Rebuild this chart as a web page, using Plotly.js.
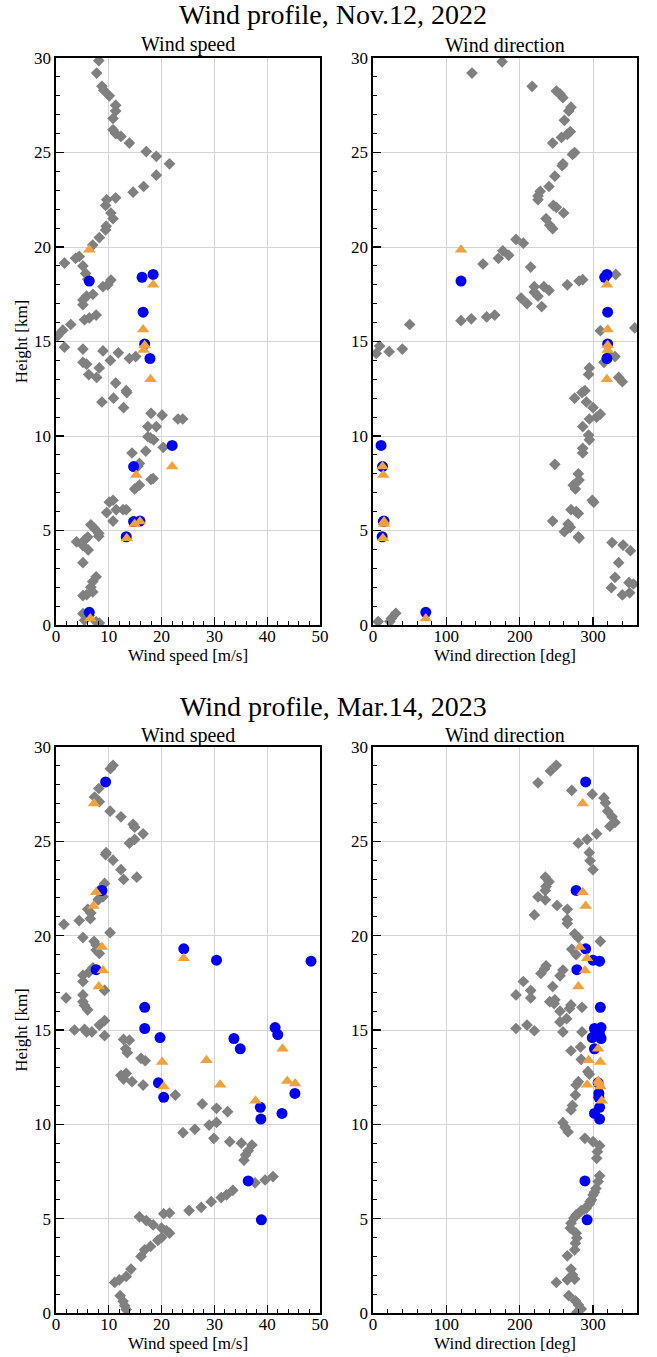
<!DOCTYPE html>
<html><head><meta charset="utf-8">
<script src="https://cdn.plot.ly/plotly-3.0.1.min.js"></script>
<style>html,body{margin:0;padding:0;background:#fff}#chart{width:657px;height:1357px}</style>
</head><body><div id="chart"></div>
<script>
// ---------- Nov.12, 2022 ----------
const novSondeSpeed = [8.1,7.7,8.7,9.05,10.1,11.3,11.3,10.8,10.8,11.3,12.3,13.9,17.1,19.0,21.5,19.0,16.6,14.6,11.3,9.6,9.4,10.4,10.8,9.5,9.4,8.2,6.96,4.4,3.7,1.6,5.1,5.6,6.0,10.4,9.8,8.9,7.0,5.8,5.1,5.1,7.6,6.3,5.4,2.8,1.3,0.3,1.6,5.1,8.9,11.8,15.1,13.9,10.3,5.1,5.8,8.2,6.2,7.7,11.3,13.3,13.4,10.9,8.7,12.8,18.0,20.1,23.1,24.0,17.4,19.0,17.4,17.9,18.5,20.3,17.0,14.4,15.8,15.5,18.4,18.0,15.8,14.9,10.8,10.1,11.4,12.7,13.3,9.6,10.8,6.6,7.3,8.1,8.1,6.0,5.4,3.9,5.1,6.1,5.1,7.6,6.96,6.6,6.96,5.8,5.1,5.1,6.3,5.4,7.6,8.2];
const novSondeSpeedH = [29.86,29.2,28.5,28.3,28.0,27.5,27.2,26.8,26.2,26.0,25.85,25.5,25.05,24.8,24.4,23.8,23.2,22.9,22.6,22.5,22.2,21.8,21.5,21.1,20.9,20.5,20.1,19.5,19.4,19.15,19.0,18.6,18.3,18.25,18.0,17.9,17.5,17.4,17.2,16.95,16.4,16.25,16.15,15.9,15.6,15.3,14.7,14.6,14.5,14.4,14.2,14.1,14.0,13.9,13.8,13.6,13.25,13.1,12.8,12.4,12.3,12.0,11.8,11.5,11.2,11.1,10.9,10.9,10.5,10.5,9.96,9.9,9.8,9.4,9.2,9.1,8.55,8.4,7.75,7.7,7.4,7.2,6.6,6.5,6.1,6.1,6.1,5.95,5.5,5.3,5.1,4.85,4.7,4.65,4.5,4.4,4.2,3.97,3.3,2.55,2.3,2.0,1.75,1.6,1.55,0.6,0.5,0.25,0.17,0.1];
const novSondeDir = [176,135,217,250,255,259,270,267,261,269,265,257,245,275,272,259,258,248,240,228,225,225,246,250,260,236,241,245,195,205,177,185,171,150,215,331,286,281,265,220,233,240,220,225,202,210,230,166,155,134,120,50,357,310,9,40,22,4.5,322,330,315,295,294,335,340,289,285,275,291,300,310,305,295,286,294,295,286,286,248,280,281,273,276,299,301,270,277,280,245,266,269,261,280,281,326,341,351,335,330,349,355,325,350,340,31,25,23,7];
const novSondeDirH = [29.8,29.2,28.5,28.25,28.1,27.9,27.4,27.2,26.7,26.1,25.96,25.8,25.5,25.0,24.9,24.4,24.3,23.75,23.2,22.95,22.7,22.5,22.2,22.1,21.8,21.5,21.15,20.97,20.4,20.2,19.8,19.56,19.4,19.1,18.94,18.55,18.27,18.2,18.0,17.9,17.9,17.7,17.6,17.4,17.3,17.0,16.85,16.4,16.3,16.2,16.1,15.9,15.72,15.57,14.76,14.6,14.46,14.37,14.3,14.2,13.9,13.6,13.26,13.1,12.87,12.4,12.3,12.0,11.8,11.5,11.16,11.0,10.9,10.5,10.05,9.8,9.35,9.1,8.5,8.0,7.67,7.4,7.2,6.6,6.5,6.1,6.0,5.9,5.5,5.34,5.17,4.94,4.67,4.6,4.36,4.23,3.93,3.3,2.52,2.24,2.17,1.97,1.7,1.59,0.62,0.35,0.18,0.18];
const novCircleH = [18.2,18.4,18.55,16.55,14.87,14.1,9.5,8.38,5.47,5.5,4.67,0.67];
const novCircleSpeed = [6.3,16.3,18.4,16.5,16.8,17.8,22.0,14.7,14.7,15.9,13.3,6.3];
const novCircleDir = [120,316,319,320,320,319,11,13,14,15,12.5,72];
const novTriH = [19.86,18.0,15.64,14.8,14.55,13.0,8.38,7.94,5.35,5.47,4.59,0.35];
const novTriSpeed = [6.3,18.4,16.5,16.8,16.6,17.9,22.0,15.2,14.9,15.9,13.4,6.5];
const novTriDir = [120,319,320,320,320,319,13,14,15,15,13.5,72];

// ---------- Mar.14, 2023 ----------
const marSondeSpeed = [10.8,10.3,8.1,7.3,8.2,10.25,12.3,14.6,14.9,16.5,14.9,13.9,9.5,9.4,10.8,12.3,12.8,15.3,9.2,8.5,8.9,8.2,8.0,6.0,6.6,6.5,4.4,1.5,10.25,5.1,7.2,7.6,7.6,8.2,7.0,6.2,5.1,5.1,9.2,5.1,1.9,5.1,5.4,6.0,9.2,8.2,5.4,3.5,5.8,6.8,9.2,12.8,13.9,13.2,13.5,16.1,16.9,13.3,12.3,12.8,14.4,16.5,22.6,27.7,30.4,32.5,30.4,29.0,26.3,24.05,29.9,32.9,35.1,37.1,36.4,35.9,35.6,41.1,39.6,37.7,33.5,32.3,31.3,29.4,27.5,25.2,21.5,20.4,15.8,17.1,18.4,20.0,20.9,21.5,20.0,19.3,17.9,16.8,16.1,14.2,13.3,12.0,11.1,12.15,12.7,13.0,13.3];
const marSondeSpeedH = [29.03,28.85,27.8,27.35,27.1,26.6,26.3,25.9,25.75,25.4,25.1,24.9,24.4,24.3,24.0,23.5,22.98,23.1,22.77,22.5,22.06,21.97,21.9,21.4,21.2,20.9,20.8,20.6,20.16,19.9,19.7,19.5,19.24,19.06,18.3,18.05,17.9,17.57,17.1,16.86,16.7,16.5,16.3,16.07,15.5,15.26,15.03,15.0,14.9,14.9,14.7,14.5,14.46,14.0,13.8,13.5,13.37,12.7,12.6,12.4,12.26,12.08,11.55,11.08,10.85,10.67,10.1,9.96,9.74,9.56,9.26,9.08,9.0,8.9,8.6,8.38,8.1,7.23,7.05,6.9,6.5,6.26,6.12,5.9,5.6,5.43,5.3,5.26,5.1,4.9,4.67,4.5,4.37,4.23,4.0,3.85,3.53,3.35,3.0,2.33,1.94,1.76,1.62,0.92,0.62,0.39,0.18];
const marSondeDir = [250,242,225,271,299,315,317,320,326,330,323,305,292,280,295,296,300,235,240,236,235,225,235,251,265,220,265,265,275,280,310,271,277,236,234,259,229,255,205,245,215,195,215,248,241,247,270,285,268,255,264,255,210,195,220,259,285,283,270,284,293,295,280,277,276,272,270,259,262,266,289,300,309,306,305,309,307,304,302,300,298,296,295,291,288,284,281,277,274,270,269,277,278,276,275,265,270,272,275,265,250,267,276,280,284,278];
const marSondeDirH = [29.03,28.73,28.1,27.7,27.5,27.3,27.04,26.6,26.3,26.0,25.8,25.4,25.1,24.9,24.4,23.97,23.5,23.1,22.86,22.6,22.4,22.06,21.9,21.6,21.4,21.1,20.86,20.65,20.1,19.9,19.7,19.28,19.0,18.4,18.25,18.18,18.0,17.87,17.57,17.3,17.1,16.86,16.7,16.6,16.5,16.4,16.33,16.2,16.14,16.0,15.6,15.43,15.26,15.08,14.96,14.9,14.9,14.1,13.9,13.44,12.79,12.66,12.26,12.08,11.55,11.0,10.76,10.09,9.84,9.6,9.26,9.08,8.87,8.55,8.2,7.27,6.97,6.6,6.4,6.26,6.0,5.9,5.78,5.56,5.5,5.43,5.3,5.2,5.03,4.76,4.5,4.23,3.97,3.7,3.35,3.03,2.33,2.03,1.8,1.76,1.62,0.92,0.65,0.44,0.21,0.04];
const marCircleH = [28.15,22.4,19.3,18.7,18.65,18.2,16.2,15.08,15.13,14.76,14.6,14.55,14.0,12.2,11.64,11.43,10.9,10.58,10.28,7.0,4.94];
const marCircleSpeed = [9.4,8.7,24.2,30.4,48.3,7.6,16.8,16.8,41.5,42.0,19.7,33.7,34.9,19.4,45.25,20.4,38.7,42.8,38.8,36.4,38.9];
const marCircleDir = [290,277,290,300,309,278,310,302,311,309,299,311,302,307,308,308,309,302,309,289,292];
const marTriH = [27.0,22.3,21.57,19.4,18.8,18.15,17.3,14.0,13.4,13.3,12.3,12.17,12.1,12.0,11.25];
const marTriSpeed = [7.2,7.6,7.1,8.7,24.2,8.9,8.1,42.9,28.5,20.1,43.8,45.3,31.1,20.4,37.8];
const marTriDir = [286,286,290,282,292,289,280,307,294,310,307,308,292,310,312];

const titles = ["Wind profile, Nov.12, 2022", "Wind profile, Mar.14, 2023"];
const panelTitles = ["Wind speed", "Wind direction"];
const xTitles = ["Wind speed [m/s]", "Wind direction [deg]"];
const yTitle = "Height [km]";

const FONT = "Liberation Serif";
const GRAY = "#808080", BLUE = "#0000f0", ORANGE = "#f2a23a";

function panel(x, y, xa, ya, sym, color, size) {
  return {x: x, y: y, xaxis: xa, yaxis: ya, type: "scatter", mode: "markers",
    marker: {symbol: sym, color: color, size: size, line: {width: 0}}, hoverinfo: "skip", showlegend: false, cliponaxis: true};
}
const sets = [
  ["x", "y", novSondeSpeed, novSondeSpeedH, novCircleSpeed, novCircleH, novTriSpeed, novTriH],
  ["x2", "y2", novSondeDir, novSondeDirH, novCircleDir, novCircleH, novTriDir, novTriH],
  ["x3", "y3", marSondeSpeed, marSondeSpeedH, marCircleSpeed, marCircleH, marTriSpeed, marTriH],
  ["x4", "y4", marSondeDir, marSondeDirH, marCircleDir, marCircleH, marTriDir, marTriH]
];
const data = [];
sets.forEach(s => {
  data.push(panel(s[2], s[3], s[0], s[1], "diamond", GRAY, 9));
  data.push(panel(s[4], s[5], s[0], s[1], "circle", BLUE, 11));
  data.push(panel(s[6], s[7], s[0], s[1], "triangle-up", ORANGE, 11));
});

const W = 657, H = 1357;
const xl = [56/W, 320/W], xr = [373/W, 637/W];
const yt = [1-625/H, 1-58/H], yb = [1-1313/H, 1-747/H];

function axisBase() {
  return {showline: true, mirror: true, linecolor: "black", linewidth: 1.6,
    ticks: "inside", ticklen: 8, tickwidth: 1.3, tickcolor: "black",
    showgrid: true, gridcolor: "#d4d4d4", gridwidth: 1, zeroline: false,
    tickfont: {family: FONT, size: 17, color: "black"}, automargin: false};
}
function xAxis(isSpeed, domain, anchor) {
  const a = axisBase();
  a.domain = domain; a.anchor = anchor;
  a.range = isSpeed ? [0, 50] : [0, 360];
  a.tickmode = "linear"; a.tick0 = 0; a.dtick = isSpeed ? 10 : 100;
  a.ticklabelstandoff = -5;
  a.minor = {ticks: "inside", ticklen: 4, tickwidth: 1, tickcolor: "black", dtick: isSpeed ? 2 : 20, tick0: 0, showgrid: false};
  a.title = {text: isSpeed ? xTitles[0] : xTitles[1], font: {family: FONT, size: 17, color: "black"}, standoff: 0};
  return a;
}
function yAxis(domain, anchor, withTitle) {
  const a = axisBase();
  a.domain = domain; a.anchor = anchor;
  a.range = [0, 30]; a.tickmode = "linear"; a.tick0 = 0; a.dtick = 5;
  a.minor = {ticks: "inside", ticklen: 4, tickwidth: 1, tickcolor: "black", dtick: 1, tick0: 0, showgrid: false};
  if (withTitle) a.title = {text: yTitle, font: {family: FONT, size: 17, color: "black"}, standoff: 2};
  return a;
}

const ann = [];
function txt(t, x, y, size) {
  ann.push({text: t, x: x, y: y, xref: "paper", yref: "paper", showarrow: false,
    xanchor: "center", yanchor: "middle", font: {family: FONT, size: size, color: "black"}});
}
txt(titles[0], 333/W, 1-15/H, 28);
txt(titles[1], 333/W, 1-706/H, 28);
txt(panelTitles[0], 188/W, 1-45/H, 20);
txt(panelTitles[1], 505/W, 1-45/H, 20);
txt(panelTitles[0], 188/W, 1-735/H, 20);
txt(panelTitles[1], 505/W, 1-735/H, 20);

const layout = {
  width: W, height: H, margin: {l: 0, r: 0, t: 0, b: 0},
  paper_bgcolor: "white", plot_bgcolor: "white",
  font: {family: FONT, color: "black"},
  xaxis: xAxis(true, xl, "y"), yaxis: yAxis(yt, "x", true),
  xaxis2: xAxis(false, xr, "y2"), yaxis2: yAxis(yt, "x2", false),
  xaxis3: xAxis(true, xl, "y3"), yaxis3: yAxis(yb, "x3", true),
  xaxis4: xAxis(false, xr, "y4"), yaxis4: yAxis(yb, "x4", false),
  annotations: ann
};
Plotly.newPlot("chart", data, layout, {staticPlot: true, displayModeBar: false});
</script></body></html>
